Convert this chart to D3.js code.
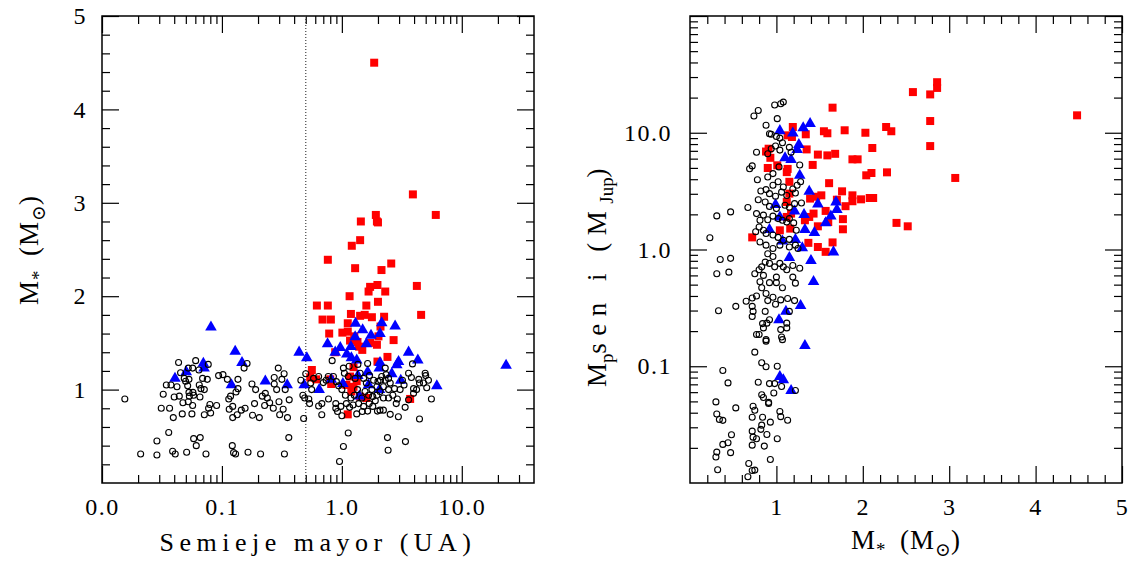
<!DOCTYPE html>
<html>
<head>
<meta charset="utf-8">
<script src="https://cdn.jsdelivr.net/npm/d3@7"></script>
<style>
  body { margin: 0; background: #fff; }
  svg { display: block; }
  text { font-family: "Liberation Serif", "DejaVu Serif", "Times New Roman", Tinos, "Noto Serif", FreeSerif, serif; fill: #000; }
  .tick text { font-size: 24px; letter-spacing: 1.5px; }
  .tick line { stroke: #000; stroke-width: 1.2; }
</style>
</head>
<body>
<svg id="chart" width="1130" height="563"></svg>
<script>
// ---- left panel: semi-major axis (AU) vs stellar mass (Msun) ----
const leftOpen = [
  [0.0155,0.90],[0.021,0.31],[0.0287,0.45],[0.0287,0.30],[0.036,0.54],[0.0388,0.34],[0.0408,0.31],[0.0508,0.33],
  [0.0312,0.80],[0.0366,0.80],[0.0393,0.70],[0.0324,0.95],[0.0344,1.05],[0.0376,1.05],[0.0435,1.29],[0.0422,1.03],
  [0.040,0.92],[0.0441,0.93],[0.0473,0.86],[0.0467,0.74],[0.057,0.83],[0.0562,0.74],[0.0452,1.18],[0.0485,1.12],
  [0.0498,1.09],[0.0524,1.23],[0.0531,1.11],[0.0518,1.04],[0.0531,0.97],[0.0535,0.93],[0.0573,0.97],[0.057,1.23],
  [0.0604,1.31],[0.0643,1.21],[0.0647,1.05],[0.0668,1.01],[0.0656,0.92],[0.0581,0.94],[0.069,1.12],[0.0713,1.00],
  [0.0755,1.11],[0.0769,1.27],[0.0713,0.73],[0.0774,0.80],[0.0805,0.75],[0.0794,0.84],[0.0903,0.83],[0.0938,1.15],
  [0.102,1.16],[0.111,1.11],[0.114,0.90],[0.118,0.93],[0.115,0.79],[0.123,0.82],[0.123,0.70],[0.134,0.73],
  [0.136,1.01],[0.131,0.975],[0.136,1.11],[0.145,0.78],[0.156,0.80],[0.153,1.23],[0.162,1.28],[0.178,1.06],
  [0.180,0.725],[0.187,0.85],[0.191,1.00],[0.205,0.70],[0.217,0.93],[0.230,0.96],[0.227,0.83],[0.239,0.91],
  [0.250,0.86],[0.268,0.80],[0.273,1.06],[0.273,1.13],[0.286,1.00],[0.295,1.23],[0.299,0.87],[0.303,0.73],
  [0.316,1.11],[0.330,1.17],[0.324,0.79],[0.352,0.70],[0.364,0.89],[0.337,1.00],[0.0581,0.475],[0.0659,0.486],
  [0.0611,0.40],[0.0736,0.31],[0.122,0.40],[0.125,0.325],[0.130,0.31],[0.165,0.33],[0.210,0.31],[0.332,0.31],
  [0.361,0.486],[0.0524,0.87],
  [0.83,1.31],[1.03,1.23],[1.15,1.25],[1.36,1.27],[1.64,1.28],[2.3,1.23],[3.88,1.275],[4.95,1.175],[5.0,1.15],
  [5.27,1.10],[5.1,1.02],[5.58,0.90],[4.44,0.686],[3.39,0.443],[2.40,0.486],[2.43,0.35],[1.03,0.39],[1.13,0.535],
  [0.956,0.23],[0.48,0.69],[0.473,0.94],[0.49,0.91],[0.53,0.90],[0.538,0.85],[0.455,1.10],[0.5,1.17],[0.581,1.12],
  [0.64,1.14],[0.681,0.85],[0.64,0.825],[0.68,0.73],[0.774,0.90],[0.89,0.85],[0.89,0.80],[0.92,0.765],[1.0,0.72],
  [1.16,0.81],[1.33,0.74],[1.48,0.765],[1.64,0.77],[1.81,0.82],[1.98,0.77],[2.22,0.78],[2.53,0.735],[2.84,0.85],
  [2.9,0.90],[3.37,0.81],[3.6,0.89],[3.96,1.01],[3.96,0.96],[4.2,1.0],[4.44,1.07],[4.8,1.07],[4.38,1.11],[3.8,1.13],
  [3.6,1.175],[3.2,1.10],[3.3,1.05],[3.06,1.0],[2.75,1.01],[2.53,1.07],[2.45,1.12],[2.34,1.16],[2.15,1.14],[2.0,1.09],
  [2.22,1.03],[2.08,0.98],[1.96,0.94],[1.78,1.0],[1.81,0.925],[1.67,0.94],[1.56,0.98],[1.47,0.91],[1.35,1.0],
  [1.27,0.94],[1.19,0.91],[1.07,0.94],[1.0,1.0],[0.94,1.04],[0.9,1.085],[0.85,1.14],[0.77,1.14],[0.74,1.10],
  [0.70,1.075],[0.56,1.0],[0.55,1.07],[1.05,1.175],[1.13,1.14],[1.29,1.12],[1.42,1.175],[1.52,1.12],[1.60,1.07],
  [1.84,1.10],[1.70,1.15],[1.96,1.03],[2.1,1.10],[2.3,1.10],[2.45,1.0],[2.22,0.91],[2.45,0.91],[2.66,0.94],
  [1.90,0.88],[1.69,0.85],[1.52,0.82],[1.38,0.85],[1.24,0.835],[1.09,0.85],[0.98,0.82],[2.96,0.71],[2.08,0.78]
];
const leftTri = [
  [0.081,1.68],[0.0406,1.13],[0.0504,1.20],[0.070,1.29],[0.071,1.24],[0.129,1.42],[0.147,1.30],[0.12,1.06],
  [0.23,1.10],[0.35,1.06],[0.44,1.41],[0.51,1.35],[0.485,1.06],[0.647,1.01],[0.76,1.50],[0.88,1.41],[0.97,1.46],
  [1.30,1.72],[1.29,1.575],[1.19,1.47],[1.10,1.39],[1.20,1.35],[1.33,1.325],[1.49,1.65],[1.75,1.59],[1.60,1.50],
  [2.15,1.725],[2.08,1.61],[2.78,1.69],[3.6,1.41],[2.97,1.31],[2.87,1.275],[4.3,1.325],[6.19,1.05],[23.4,1.27],
  [1.64,1.20],[2.08,1.30],[2.05,1.24],[1.67,1.06],[1.40,0.94],[1.36,1.16],[1.02,1.075],[2.06,1.01],[2.61,1.18],
  [3.10,1.11],[0.815,1.12]
];
const leftSq = [
  [1.86,4.50],[3.91,3.09],[6.07,2.87],[1.92,2.87],[1.44,2.80],[1.96,2.80],[2.0,2.79],[1.42,2.60],[1.21,2.54],
  [0.764,2.39],[1.29,2.30],[2.58,2.35],[2.14,2.28],[4.22,2.11],[4.58,1.80],[2.0,1.94],[2.30,2.05],[1.98,2.12],
  [1.72,2.10],[1.67,2.05],[1.60,1.90],[1.16,2.0],[1.19,1.81],[1.42,1.79],[1.55,1.80],[1.78,1.775],[2.25,1.78],
  [0.619,1.90],[0.764,1.90],[0.69,1.75],[0.81,1.75],[0.784,1.60],[1.01,1.61],[1.12,1.71],[1.12,1.62],[1.17,1.525],
  [1.27,1.57],[1.35,1.51],[1.39,1.46],[1.48,1.425],[1.72,1.50],[1.96,1.48],[2.02,1.57],[2.1,1.675],[2.70,1.53],
  [2.40,1.35],[1.98,1.30],[0.88,1.40],[1.25,1.24],[0.562,1.21],[0.545,1.13],[0.61,1.11],[0.80,1.11],[0.815,1.06],
  [1.17,1.14],[1.09,1.05],[1.25,1.03],[1.2,0.98],[1.42,0.925],[1.60,0.91],[1.12,0.735],[3.71,0.90],[1.33,1.09]
];

// ---- right panel: stellar mass (Msun) vs Mp sin i (MJup) ----
const rightOpen = [
  [1.08,18.3],[1.05,17.7],[0.98,17.3],[0.79,15.5],[0.74,13.9],[1.01,13.2],[0.88,11.6],[0.92,9.8],[0.94,9.7],
  [1.0,9.3],[1.04,9.0],[1.07,8.2],[0.99,7.7],[0.94,7.3],[0.90,6.6],[0.77,6.8],[1.04,7.1],[1.15,7.5],[1.17,6.8],
  [1.03,5.1],[0.72,5.2],[0.69,4.92],[0.96,4.47],[0.78,3.96],[0.90,4.18],[1.02,3.8],[1.08,3.43],[0.96,3.55],
  [0.88,3.26],[0.82,3.17],[0.92,3.01],[0.99,2.86],[1.06,3.1],[1.12,2.9],[1.19,3.3],[1.22,3.05],[1.24,3.55],
  [1.27,5.3],[1.28,3.8],[1.29,2.5],[0.79,2.67],[0.67,2.29],[0.87,2.55],[0.92,2.34],[1.0,2.24],[1.10,2.39],
  [1.15,2.3],[1.21,2.47],[0.47,2.1],[0.31,1.94],[0.23,1.26],[0.77,2.03],[0.81,1.78],[0.85,1.97],[0.90,1.8],
  [0.96,1.93],[1.02,1.84],[1.07,1.78],[1.12,1.72],[1.15,1.84],[1.20,1.69],[1.23,1.46],[0.80,1.56],[0.76,1.42],
  [0.85,1.46],[0.88,1.37],[0.96,1.33],[1.02,1.27],[1.08,1.2],[1.15,1.22],[0.81,1.16],[0.88,1.09],[0.96,1.02],
  [1.04,1.09],[1.15,1.05],[1.25,1.02],[1.22,1.09],
  [0.35,0.82],[0.47,0.84],[0.45,0.64],[0.31,0.62],[0.75,0.62],[0.80,0.67],[0.83,0.71],[0.87,0.78],[0.92,0.76],
  [0.98,0.71],[1.04,0.76],[1.08,0.71],[1.12,0.67],[1.19,0.73],[1.27,0.69],[1.0,0.58],[0.85,0.6],[0.96,0.87],
  [0.90,0.92],[1.19,0.58],
  [0.33,0.299],[0.53,0.326],[0.65,0.36],[0.72,0.384],[0.72,0.326],[0.73,0.295],[0.72,0.267],[0.77,0.40],
  [0.83,0.47],[0.81,0.53],[0.88,0.42],[0.90,0.365],[0.87,0.295],[0.85,0.213],[0.84,0.232],[0.89,0.234],
  [0.92,0.25],[0.80,0.187],[0.77,0.187],[0.88,0.169],[0.88,0.164],[0.96,0.39],[0.99,0.34],[1.05,0.37],
  [1.05,0.206],[1.06,0.178],[1.07,0.169],[1.12,0.213],[1.12,0.234],[1.15,0.295],[1.21,0.365],[1.22,0.515],
  [1.13,0.38],[1.07,0.47],[1.0,0.52],[0.92,0.52],[0.75,0.132],[0.38,0.092],[0.44,0.072],[0.79,0.073],
  [0.83,0.107],[0.88,0.099],[0.92,0.071],[0.98,0.071],[0.97,0.059],[1.01,0.1],[1.04,0.041],[1.05,0.037],
  [1.13,0.0345],[1.22,0.062],[1.06,0.067],[0.83,0.057],[0.85,0.054],[0.91,0.049],[0.91,0.048],[0.73,0.0455],
  [0.75,0.042],[0.72,0.0366],[0.84,0.0366],[0.83,0.0313],[0.93,0.0332],[0.82,0.0288],[0.72,0.0278],
  [0.73,0.0247],[0.77,0.0239],[0.72,0.0211],[0.86,0.0207],[0.89,0.026],[1.01,0.0239],[0.93,0.0159],
  [0.68,0.0147],[0.75,0.0129],[0.72,0.0128],[0.67,0.0113],[0.53,0.044],[0.30,0.0495],[0.31,0.039],
  [0.34,0.035],[0.38,0.0344],[0.48,0.0259],[0.44,0.0221],[0.38,0.0214],[0.47,0.0182],[0.31,0.0184],
  [0.30,0.0167],[0.32,0.013]
];
const rightTri = [
  [1.04,10.6],[1.31,11.2],[1.39,12.2],[1.19,10.1],[1.26,8.05],[1.24,7.3],[1.10,6.2],[1.17,6.0],[1.27,4.4],
  [1.38,3.2],[1.48,2.5],[1.69,2.6],[1.70,2.24],[1.63,1.97],[1.57,1.72],[1.21,2.17],[1.32,2.03],[0.92,1.51],
  [0.99,2.47],[1.04,1.93],[1.22,1.24],[1.33,1.51],[1.44,1.42],[1.30,1.05],[1.40,0.82],[1.66,0.97],[1.15,0.87],
  [1.07,1.2],[1.43,0.54],[1.28,0.337],[1.11,0.301],[1.03,0.254],[1.33,0.153],[1.04,0.083],[1.08,0.078],[1.17,0.063]
];
const rightSq = [
  [2.86,27.1],[2.86,24.2],[2.58,22.3],[2.78,21.3],[4.48,14.1],[2.78,12.6],[2.27,11.2],[2.33,10.3],[1.79,10.5],
  [2.03,10.0],[2.78,7.69],[2.11,7.4],[1.88,5.92],[1.94,5.92],[3.07,4.1],[2.04,4.32],[2.10,4.52],[2.28,4.58],
  [1.76,3.15],[1.88,2.91],[1.88,2.59],[1.98,2.69],[2.08,2.76],[2.12,2.76],[1.80,2.35],[1.77,1.82],[1.77,1.49],
  [2.39,1.69],[2.52,1.58],[1.65,16.4],[1.55,10.3],[1.59,9.9],[1.34,9.7],[1.19,11.2],[1.18,9.2],[1.13,9.5],
  [1.35,7.2],[1.48,6.5],[1.59,6.4],[1.68,6.6],[1.42,5.3],[0.88,6.9],[0.90,4.99],[0.93,6.1],[1.01,5.26],
  [1.12,4.6],[1.15,3.8],[1.61,3.7],[1.39,2.73],[1.52,2.91],[1.46,2.83],[1.57,2.14],[1.70,2.67],[1.33,1.78],
  [1.38,1.9],[1.43,2.03],[1.48,1.58],[1.60,1.72],[1.37,1.14],[1.48,1.05],[1.57,0.955],[1.65,1.15],[0.72,1.27],
  [1.04,1.46],[1.16,1.51],[1.12,1.90],[1.15,3.01],[1.12,2.55],[1.17,2.03],[0.91,7.3],[1.13,4.9]
];

// tick values
const decades = [0.01, 0.1, 1, 10];
const logMinor = decades.flatMap(d => d3.range(2, 10).map(k => k * d));
const linMinor = d3.range(0, 5.01, 0.2).filter(v => Math.abs(v - Math.round(v)) > 1e-6);
const aMajor = [0.01, 0.1, 1, 10];
const massMajor = [1, 2, 3, 4, 5];
const mpMajor = [0.1, 1, 10, 100];
const cutA = 0.5;

const svg = d3.select('#chart');

const xL = d3.scaleLog().domain([0.01, 40]).range([102, 534]);
const yL = d3.scaleLinear().domain([0, 5]).range([483, 16]);
const xR = d3.scaleLinear().domain([0, 5]).range([690, 1122]);
const yR = d3.scaleLog().domain([0.01, 100]).range([483, 16]);

function frame(x, y, o) {
  const [x0, x1] = x.range(), [y0, y1] = y.range();
  const g = svg.append('g');
  const ax = (axis, tr) => g.append('g').attr('transform', tr).call(axis)
    .call(s => s.select('.domain').remove())
    .call(s => s.attr('font-size', null).attr('font-family', null));
  const xMinor = o.xMinor.filter(v => v > x.domain()[0] && v < x.domain()[1]);
  const yMinor = o.yMinor.filter(v => v > y.domain()[0] && v < y.domain()[1]);
  // bottom / top
  ax(d3.axisBottom(x).tickValues(xMinor).tickSize(-8).tickSizeOuter(0).tickFormat(''), `translate(0,${y0})`);
  ax(d3.axisBottom(x).tickValues(o.xMajor).tickSize(-17).tickSizeOuter(0).tickPadding(15).tickFormat(o.xFmt), `translate(0,${y0})`);
  ax(d3.axisTop(x).tickValues(xMinor).tickSize(-8).tickSizeOuter(0).tickFormat(''), `translate(0,${y1})`);
  ax(d3.axisTop(x).tickValues(o.xMajor).tickSize(-17).tickSizeOuter(0).tickFormat(''), `translate(0,${y1})`);
  // left / right
  ax(d3.axisLeft(y).tickValues(yMinor).tickSize(-8).tickSizeOuter(0).tickFormat(''), `translate(${x0},0)`);
  ax(d3.axisLeft(y).tickValues(o.yMajor).tickSize(-17).tickSizeOuter(0).tickPadding(o.yPad).tickFormat(o.yFmt), `translate(${x0},0)`);
  ax(d3.axisRight(y).tickValues(yMinor).tickSize(-8).tickSizeOuter(0).tickFormat(''), `translate(${x1},0)`);
  ax(d3.axisRight(y).tickValues(o.yMajor).tickSize(-17).tickSizeOuter(0).tickFormat(''), `translate(${x1},0)`);
  g.append('rect').attr('x', x0).attr('y', y1).attr('width', x1 - x0).attr('height', y0 - y1)
    .attr('fill', 'none').attr('stroke', '#000').attr('stroke-width', 1.5);
  return g;
}

function points(g, x, y, sq, tri, open) {
  const square = d3.symbol().type(d3.symbolSquare).size(64)();
  const triangle = d3.symbol().type(d3.symbolTriangle).size(58)();
  g.append('g').selectAll('path').data(sq).join('path')
    .attr('d', square).attr('fill', '#ff0000')
    .attr('transform', d => `translate(${x(d[0])},${y(d[1])})`);
  g.append('g').selectAll('path').data(tri).join('path')
    .attr('d', triangle).attr('fill', '#0000ff')
    .attr('transform', d => `translate(${x(d[0])},${y(d[1]) + 1})`);
  g.append('g').selectAll('circle').data(open).join('circle')
    .attr('cx', d => x(d[0])).attr('cy', d => y(d[1])).attr('r', 3)
    .attr('fill', 'none').attr('stroke', '#000').attr('stroke-width', 1.1);
}

// left panel
const gL = frame(xL, yL, {
  xMinor: logMinor, xMajor: aMajor, xFmt: d3.format('.1f'),
  yMinor: linMinor, yMajor: massMajor, yFmt: d3.format('d'), yPad: 15
});
gL.append('line').attr('x1', xL(cutA)).attr('x2', xL(cutA)).attr('y1', yL.range()[1]).attr('y2', yL.range()[0])
  .attr('stroke', '#444').attr('stroke-width', 1.2).attr('stroke-dasharray', '1,2');
points(gL, xL, yL, leftSq, leftTri, leftOpen);

// right panel
const gR = frame(xR, yR, {
  xMinor: linMinor, xMajor: massMajor, xFmt: d3.format('d'),
  yMinor: logMinor, yMajor: mpMajor, yFmt: v => v >= 100 ? '' : d3.format('.1f')(v), yPad: 18
});
points(gR, xR, yR, rightSq, rightTri, rightOpen);

// axis titles with subscripts
function title(parts, x, y, rot, size, spacing) {
  const t = svg.append('text')
    .attr('transform', `translate(${x},${y}) rotate(${rot})`)
    .attr('text-anchor', 'middle').attr('font-size', size);
  parts.forEach(p => {
    if (p.sub) {
      t.append('tspan').text(p.sub).attr('font-size', size * 0.7).attr('dy', size * 0.25)
        .style('letter-spacing', '0px');
    } else {
      t.append('tspan').text(p.t).attr('dy', p.back ? -size * 0.25 : 0)
        .style('letter-spacing', (p.tight ? 0 : spacing) + 'px');
    }
  });
  return t;
}
const mStar = [{t: 'M'}, {sub: '*'}, {t: '\u2002(M', back: true}, {sub: '\u2299'}, {t: ')', back: true}];
title([{t: 'Semieje mayor (UA)'}], 318, 551, 0, 26, 5.5);
title(mStar, 906, 549, 0, 27, 1);
title(mStar, 38, 250, -90, 27, 1);
title([{t: 'M', tight: true}, {sub: 'p'}, {t: 'sen i (M', back: true}, {sub: 'Jup'}, {t: ')', back: true}], 606, 274, -90, 27, 7.5);
</script>
</body>
</html>
